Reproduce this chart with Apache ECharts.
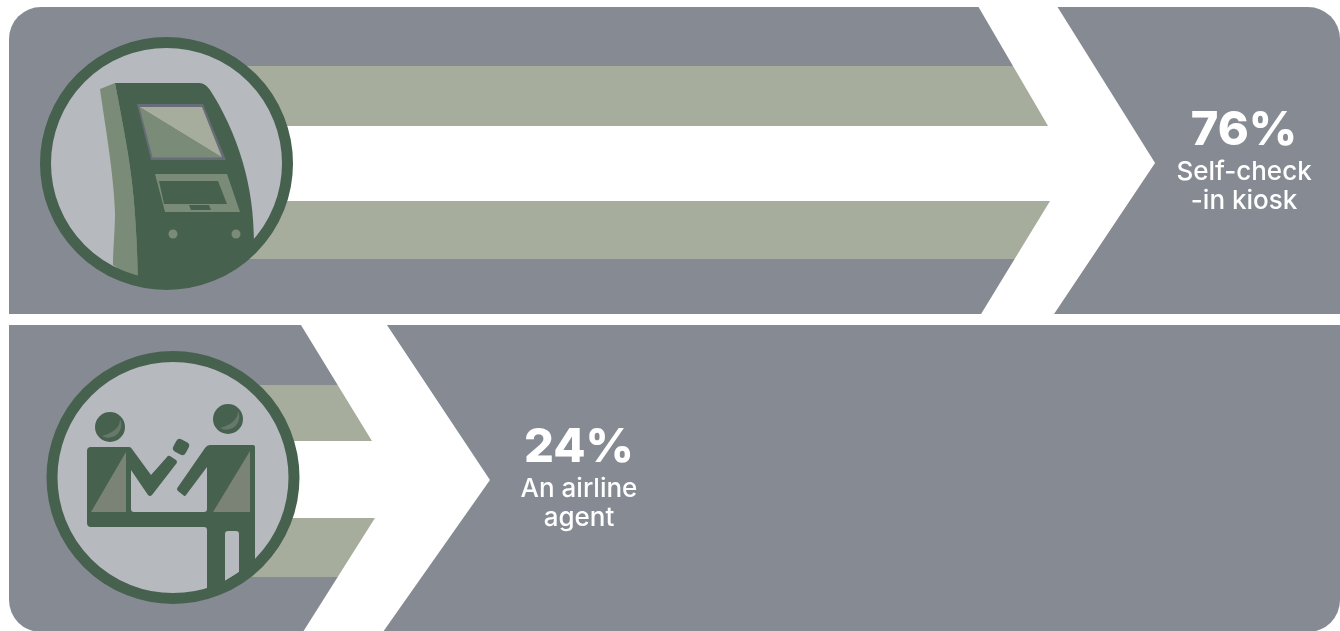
<!DOCTYPE html>
<html>
<head>
<meta charset="utf-8">
<style>
  html, body { margin: 0; padding: 0; background: #fff; }
  #chart { width: 1340px; height: 631px; }
</style>
<script src="https://cdn.jsdelivr.net/npm/echarts@6/dist/echarts.min.js"></script>
</head>
<body>
<div id="chart"></div>
<script>
// Share of travellers by check-in method
const categories = ['Self-check\n-in kiosk', 'An airline\nagent'];
const shares = [76, 24];

const PANEL = '#868a93';
const BAND = '#a7ad9c';
const RING = '#47614f';
const DISC = '#b6b9be';
const TINT = '#7a8b78';
const WHITE = '#ffffff';

// Per-row drawing offsets, measured from the arrow tip
const rowShapes = [
  { panelTop: -156, panelBottom: 151, radius: [32, 32, 0, 0], tail: -176.5, head: -97.5, tailLow: -174, headLow: -101,
    notchTop: -107, notchLow: -105, bandInnerTop: -37, bandInnerLow: 38,
    bandEdgeTop: -97, bandEdgeLow: 96, discX: 166.5, discDy: 0.5 },
  { panelTop: -155, panelBottom: 152, radius: [0, 0, 32, 32], tail: -189, head: -103, tailLow: -187, headLow: -107,
    notchTop: -118, notchLow: -115, bandInnerTop: -39, bandInnerLow: 38,
    bandEdgeTop: -95, bandEdgeLow: 97, discX: 173, discDy: -2.5 }
];

// Kiosk pictogram, authored around a disc centred at (166.5, 163.5)
function kioskIcon() {
  const strip = 'M100,89 L115,83 C121,115 128,150 131,175 C135,205 137,240 138,277 C128,275 120,270 113,265 C113,250 115,230 115,213 C114,175 105,125 100,89 Z';
  const body = 'M115,83 L199,83 C204,83 207,86 210,90 C222,108 235,135 243,163 C250,188 254,212 254,247 L225,270 L190,280 L138,281 C137,240 135,205 131,175 C128,150 121,115 115,83 Z';
  return {
    type: 'group', x: -166.5, y: -163.5,
    children: [
      { type: 'path', shape: { pathData: strip }, style: { fill: TINT } },
      { type: 'path', shape: { pathData: body }, style: { fill: RING } },
      { type: 'polygon', shape: { points: [[137, 104], [203, 104], [226, 160], [151, 160]] }, style: { fill: '#676d78' } },
      { type: 'polygon', shape: { points: [[139.5, 107], [202, 107], [222, 157.5]] }, style: { fill: BAND } },
      { type: 'polygon', shape: { points: [[139.5, 107], [222, 157.5], [152.5, 157.5]] }, style: { fill: TINT } },
      { type: 'polygon', shape: { points: [[155, 174], [227, 174], [240, 212], [165, 212]] }, style: { fill: TINT } },
      { type: 'polygon', shape: { points: [[159, 181], [218, 181], [227, 204], [164, 204]] }, style: { fill: RING } },
      { type: 'polygon', shape: { points: [[189, 205], [209, 205], [211, 210], [191, 210]] }, style: { fill: RING } },
      { type: 'circle', shape: { cx: 173, cy: 234, r: 4.5 }, style: { fill: TINT } },
      { type: 'circle', shape: { cx: 236, cy: 234, r: 4.5 }, style: { fill: TINT } }
    ]
  };
}

// Customer-and-agent pictogram, authored around a disc centred at (173, 477.5)
function agentIcon() {
  const GREY = '#7a8375';
  const figures = 'M87,451 Q87,447 91,447 L129,447 Q131,447 132,449 L151,475 L167,457 Q168,455 170,456 L176,460 Q178,462 176,464 L152,495 Q150,497 148,495 L131,470 L131,509 Q131,512 134,512 L204,512 Q207,512 207,509 L207,467 L186,495 Q185,497 183,495 L178,491 Q176,489 178,487 L205,448 Q207,445 210,445 L253,445 Q255,445 255,447 L255,566 L225,590 L207,594 L207,530 Q207,527 204,527 L91,527 Q87,527 87,523 Z';
  const gap = 'M225,534 Q225,531 228,531 L236,531 Q239,531 239,534 L239,572 L225,581 Z';
  const crescent = 'M102,436 A13,13 0 0 0 120,419 Q120,431 102,436 Z';
  return {
    type: 'group', x: -173, y: -477.5,
    children: [
      { type: 'path', shape: { pathData: figures }, style: { fill: RING } },
      { type: 'path', shape: { pathData: gap }, style: { fill: DISC } },
      { type: 'polygon', shape: { points: [[126, 452], [126, 512], [91, 512]] }, style: { fill: GREY } },
      { type: 'polygon', shape: { points: [[250, 451], [250, 512], [213, 512]] }, style: { fill: GREY } },
      { type: 'rect', x: 181, y: 447, rotation: -0.5, shape: { x: -7, y: -7, width: 14, height: 14, r: 4 }, style: { fill: RING } },
      { type: 'circle', shape: { cx: 110, cy: 427, r: 15 }, style: { fill: RING } },
      { type: 'circle', shape: { cx: 228, cy: 419, r: 15 }, style: { fill: RING } },
      { type: 'path', shape: { pathData: crescent }, style: { fill: '#67786a' } },
      { type: 'path', x: 118, y: -8, shape: { pathData: crescent }, style: { fill: '#67786a' } }
    ]
  };
}

function renderRow(params, api) {
  const row = api.value(1);
  const share = api.value(0);
  const tip = api.coord([share, row]);
  const tx = tip[0];
  const ty = tip[1];
  const s = rowShapes[row];
  const discY = ty + s.discDy;

  return {
    type: 'group',
    children: [
      { type: 'rect',
        shape: { x: 9, y: ty + s.panelTop, width: 1331, height: s.panelBottom - s.panelTop, r: s.radius },
        style: { fill: PANEL } },
      // Upper and lower bands; the arrow drawn next trims their right ends
      { type: 'rect',
        shape: { x: s.discX, y: ty + s.bandEdgeTop, width: tx + s.notchTop - s.discX, height: s.bandInnerTop - s.bandEdgeTop },
        style: { fill: BAND } },
      { type: 'rect',
        shape: { x: s.discX, y: ty + s.bandInnerLow, width: tx + s.notchLow - s.discX, height: s.bandEdgeLow - s.bandInnerLow },
        style: { fill: BAND } },
      // White arrow whose tip sits at the share on the x axis
      { type: 'polygon',
        shape: { points: [
          [tx + s.tail, ty + s.panelTop],
          [tx + s.head, ty + s.panelTop],
          [tx, ty],
          [tx + s.headLow, ty + s.panelBottom],
          [tx + s.tailLow, ty + s.panelBottom],
          [tx + s.notchLow, ty + s.bandInnerLow],
          [s.discX, ty + s.bandInnerLow],
          [s.discX, ty + s.bandInnerTop],
          [tx + s.notchTop, ty + s.bandInnerTop]
        ] },
        style: { fill: WHITE } },
      { type: 'circle', shape: { cx: s.discX, cy: discY, r: 121 }, style: { fill: DISC } },
      { type: 'group', x: s.discX, y: discY, children: [row === 0 ? kioskIcon() : agentIcon()] },
      { type: 'circle', shape: { cx: s.discX, cy: discY, r: 121 },
        style: { fill: 'none', stroke: RING, lineWidth: 11 } },
      { type: 'text',
        style: { x: tx + 89, y: ty - 32.5, text: share + '%', fill: WHITE, align: 'center', verticalAlign: 'middle',
          font: '800 47px Inter' } },
      { type: 'text',
        style: { x: tx + 89, y: ty + 23.5, text: categories[row], fill: WHITE, align: 'center', verticalAlign: 'middle',
          font: '500 26px Inter', lineHeight: 29 } }
    ]
  };
}

const chart = echarts.init(document.getElementById('chart'), null, { renderer: 'canvas' });
chart.setOption({
  animation: false,
  backgroundColor: WHITE,
  grid: { outerBoundsMode: 'none', left: 183, width: 1279, top: 4.5, height: 634 },
  xAxis: { type: 'value', min: 0, max: 100, show: false },
  yAxis: { type: 'category', inverse: true, data: categories, show: false },
  series: [{
    type: 'custom',
    clip: false,
    renderItem: renderRow,
    encode: { x: 0, y: 1 },
    data: shares.map((v, i) => [v, i])
  }]
});
</script>
</body>
</html>
